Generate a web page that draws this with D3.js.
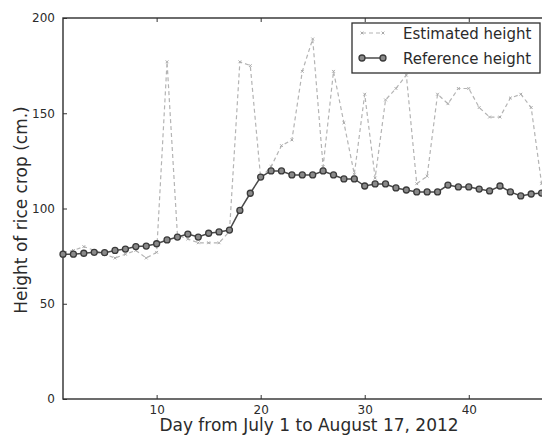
<!DOCTYPE html>
<html>
<head>
<meta charset="utf-8">
<script src="https://cdn.jsdelivr.net/npm/d3@7"></script>
<style>
  body { margin: 0; background: #fff; }
  text { font-family: "DejaVu Sans", sans-serif; fill: #2b2b2b; }
</style>
</head>
<body>
<div id="chart"></div>
<script>
// data (days 1..48)
const days = d3.range(1, 49);
const estimated = [77, 78, 80, 78, 76, 74, 76, 78, 74, 77,
                   177, 86, 84, 82, 82, 82, 88, 177, 175, 116,
                   122, 133, 136, 172, 189, 122, 172, 145, 118, 160,
                   116, 157, 163, 170, 113, 117, 160, 155, 163, 163,
                   153, 148, 148, 158, 160, 153, 113, 110];
const reference = [76, 76, 76.5, 77, 76.8, 78, 78.7, 80, 80.3, 81.5,
                   83.5, 85, 86.6, 85, 87, 87.7, 88.7, 99, 108, 116.5,
                   119.7, 119.7, 117.6, 117.6, 117.6, 119.7, 117.6, 115.5, 115.5, 111.8,
                   112.9, 112.9, 110.8, 109.7, 108.7, 108.7, 108.7, 112.3, 111.3, 111.3,
                   110.2, 109.2, 111.8, 108.7, 106.6, 107.6, 108.1, 108];
const xTicks = [10, 20, 30, 40];
const yTicks = [0, 50, 100, 150, 200];
const seriesNames = ["Estimated height", "Reference height"];

// set the dimensions and margins of the graph
const margin = {top: 18, right: 0, bottom: 37, left: 63},
    width = 489,
    height = 436 - margin.top - margin.bottom;

const svg = d3.select("#chart")
    .append("svg")
    .attr("width", 542)
    .attr("height", 436)
    .append("g")
    .attr("transform", `translate(${margin.left},${margin.top})`);

const x = d3.scaleLinear().domain([1, 48]).range([0, width]);
const y = d3.scaleLinear().domain([0, 200]).range([height, 0]);

// axes, ticks pointing inward like the old matplotlib style
const styleAxis = g => {
  g.select(".domain").remove();
  g.selectAll(".tick line").attr("stroke", "#333").attr("stroke-width", 1);
  g.selectAll(".tick text").style("font-size", "12px").attr("fill", "#2b2b2b");
};
svg.append("g")
    .attr("transform", `translate(0,${height})`)
    .call(d3.axisBottom(x).tickValues(xTicks).tickSizeInner(-4).tickSizeOuter(0).tickPadding(6))
    .call(styleAxis);
svg.append("g")
    .call(d3.axisTop(x).tickValues(xTicks).tickSizeInner(-4).tickSizeOuter(0).tickFormat(""))
    .call(styleAxis);
svg.append("g")
    .call(d3.axisLeft(y).tickValues(yTicks).tickSizeInner(-4).tickSizeOuter(0).tickPadding(8))
    .call(styleAxis);

// frame
svg.append("rect")
    .attr("x", 0).attr("y", 0)
    .attr("width", width).attr("height", height)
    .attr("fill", "none")
    .attr("stroke", "#2e2e2e")
    .attr("stroke-width", 1.4);

// estimated height: light dashed line
const est = days.map((d, i) => ({day: d, v: estimated[i]}));
const ref = days.map((d, i) => ({day: d, v: reference[i]}));
const line = d3.line().x(d => x(d.day)).y(d => y(d.v));

svg.append("path")
    .datum(est)
    .attr("fill", "none")
    .attr("stroke", "#b4b4b4")
    .attr("stroke-width", 1.2)
    .attr("stroke-dasharray", "4,3")
    .attr("d", line);

const tiny = d3.symbol().type(d3.symbolTimes || d3.symbolCross).size(6);
svg.append("g")
    .selectAll("path")
    .data(est)
    .join("path")
    .attr("transform", d => `translate(${x(d.day)},${y(d.v)})`)
    .attr("d", tiny)
    .attr("fill", "none")
    .attr("stroke", "#aaa")
    .attr("stroke-width", 1);

// reference height: dark line with circles
svg.append("path")
    .datum(ref)
    .attr("fill", "none")
    .attr("stroke", "#4a4a4a")
    .attr("stroke-width", 1.5)
    .attr("d", line);

svg.append("g")
    .selectAll("circle")
    .data(ref)
    .join("circle")
    .attr("cx", d => x(d.day))
    .attr("cy", d => y(d.v))
    .attr("r", 3)
    .attr("fill", "#8a8a8a")
    .attr("stroke", "#3a3a3a")
    .attr("stroke-width", 1.3);

// axis labels
svg.append("text")
    .attr("x", 309 - margin.left)
    .attr("y", 431 - margin.top)
    .attr("text-anchor", "middle")
    .style("font-size", "17px")
    .text("Day from July 1 to August 17, 2012");

svg.append("text")
    .attr("transform", `translate(${27 - margin.left},${210 - margin.top}) rotate(-90)`)
    .attr("text-anchor", "middle")
    .style("font-size", "17px")
    .text("Height of rice crop (cm.)");

// legend
const legend = svg.append("g").attr("transform", `translate(${352 - margin.left},${23 - margin.top})`);
legend.append("rect")
    .attr("width", 188).attr("height", 50)
    .attr("fill", "#fff")
    .attr("stroke", "#2e2e2e")
    .attr("stroke-width", 1.3);

legend.append("line")
    .attr("x1", 10).attr("x2", 31).attr("y1", 10).attr("y2", 10)
    .attr("stroke", "#b4b4b4").attr("stroke-width", 1.2).attr("stroke-dasharray", "4,3");
[10, 31].forEach(px => legend.append("path")
    .attr("transform", `translate(${px},10)`)
    .attr("d", tiny)
    .attr("fill", "none").attr("stroke", "#aaa").attr("stroke-width", 1));

legend.append("line")
    .attr("x1", 10).attr("x2", 31).attr("y1", 35).attr("y2", 35)
    .attr("stroke", "#4a4a4a").attr("stroke-width", 1.5);
[10, 31].forEach(px => legend.append("circle")
    .attr("cx", px).attr("cy", 35).attr("r", 3)
    .attr("fill", "#8a8a8a").attr("stroke", "#3a3a3a").attr("stroke-width", 1.3));

legend.selectAll("text.lab")
    .data(seriesNames)
    .join("text")
    .attr("class", "lab")
    .attr("x", 51)
    .attr("y", (d, i) => 16 + i * 24.5)
    .style("font-size", "15px")
    .text(d => d);
</script>
</body>
</html>
